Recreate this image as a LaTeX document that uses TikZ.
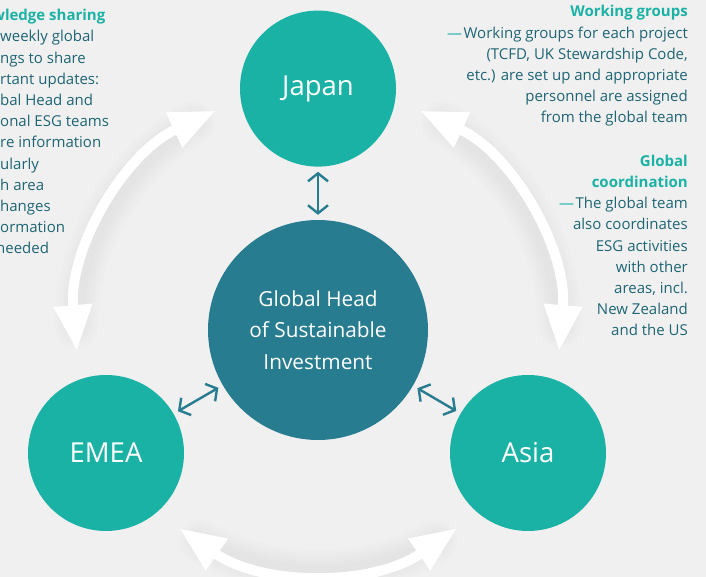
\documentclass[tikz,border=0pt]{standalone}
\usepackage{fontspec}
\setmainfont{Open Sans}
\usepackage{xcolor}
\usepackage{tikz}
\usetikzlibrary{arrows.meta, positioning}
\definecolor{regionteal}{HTML}{1BB2A6}
\definecolor{hubblue}{HTML}{277C8F}
\definecolor{bodyteal}{HTML}{1F6574}
\definecolor{bggray}{HTML}{F0F0F0}
\newcommand{\notehead}[1]{\textcolor{regionteal}{\bfseries #1}}
\newcommand{\notedash}{\textcolor{regionteal}{\textemdash}\kern1.5pt}

\begin{document}
\begin{tikzpicture}[
  x=1pt, y=1pt,
  region/.style={circle, fill=regionteal, minimum size=156pt, inner sep=0pt, text=white, font=\fontsize{27.5}{30}\selectfont},
  hub/.style={circle, fill=hubblue, minimum size=220pt, inner sep=0pt, text=white, align=center, font=\fontsize{20.8}{31.7}\selectfont},
  link/.style={{Straight Barb[length=8pt,width=20pt]}-{Straight Barb[length=8pt,width=20pt]}, line width=2.4pt, draw=hubblue, shorten <=5pt, shorten >=5pt},
  bigarrow/.style={{Triangle[length=46pt,width=36pt]}-{Triangle[length=46pt,width=36pt]}, line width=10pt, draw=white},
  halo/.style={line width=#1, draw=black, opacity=0.007, line cap=round},
  note/.style={font=\fontsize{15}{21.2}\selectfont, text=bodyteal, inner sep=0pt}
]
  \useasboundingbox (0,0) rectangle (706,577);
  \clip (0,0) rectangle (706,577);
  \fill[bggray] (0,0) rectangle (706,577);

  % Hub and regions
  \node[hub] (global) at (318,247) {Global Head\\of Sustainable\\Investment};
  \node[region, above=53pt of global] (japan) {Japan};
  \node[region] (emea) at ([shift={(-212,-123)}]global.center) {EMEA};
  \node[region] (asia) at ([shift={(210,-123)}]global.center) {Asia};

  % Soft shadow under the big arrows
  \foreach \w in {14,20,26,32,38,44}
    \foreach \a in {115,-5,235}
      \draw[halo=\w pt] ([shift={(\a+6:242)}]global.center) arc[start angle=\a+6, end angle=\a+64, radius=242];

  % Big exchange arrows round the hub
  \draw[bigarrow] ([shift={(115:242)}]global.center) arc[start angle=115, end angle=185, radius=242];
  \draw[bigarrow] ([shift={(-5:242)}]global.center) arc[start angle=-5, end angle=65, radius=242];
  \draw[bigarrow] ([shift={(235:242)}]global.center) arc[start angle=235, end angle=305, radius=242];

  % Links to the hub
  \draw[link] (japan) -- (global);
  \draw[link] (global) -- (emea);
  \draw[link] (global) -- (asia);

  % Notes (base = baseline of the last line)
  \node[note, anchor=base west, align=left] (sharing) at (0,323) {\hspace*{-8pt}\notehead{wledge sharing}\\weekly global\\ngs to share\\rtant updates:\\bal Head and\\onal ESG teams\\re information\\ularly\\h area\\hanges\\ormation\\\hspace*{-4pt}needed};
  \node[note, anchor=base east, align=right] (groups) at (688,454) {\notehead{Working groups}\\\notedash Working groups for each project\\(TCFD, UK Stewardship Code,\\etc.) are set up and appropriate\\personnel are assigned\\from the global team};
  \node[note, anchor=base east, align=right] (coord) at (688,241) {\notehead{Global}\\\notehead{coordination}\\\notedash The global team\\also coordinates\\ESG activities\\with other\\areas, incl.\\New Zealand\\and the US};
\end{tikzpicture}
\end{document}
